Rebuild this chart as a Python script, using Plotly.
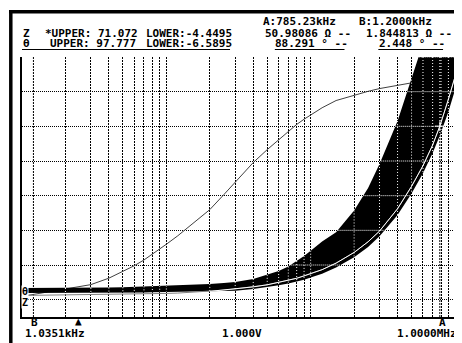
import numpy as np
import plotly.graph_objects as go

# sweep points (Hz)
freq = [1000, 1200, 1500, 2000, 2500, 3000, 4000, 5000, 6000, 7000, 8000, 9000,
        10000, 12000, 15000, 20000, 25000, 30000, 40000, 50000, 60000, 70000,
        80000, 90000, 100000, 120000, 150000, 200000, 250000, 300000, 400000,
        500000, 600000, 700000, 785230, 800000, 900000, 1000000]

# phase trace (deg)
theta_deg = [1.7, 2.45, 3.3, 4.5, 5.4, 6.4, 9.0, 11.8, 14.0, 16.3, 18.6, 20.7,
             22.6, 26.0, 30.6, 36.5, 42.5, 47.6, 55.4, 60.6, 64.6, 68.0,
             70.7, 72.8, 74.6, 77.4, 80.3, 82.5, 84.0, 85.1, 86.5,
             87.4, 87.9, 88.15, 88.291, 88.35, 88.7, 89.2]

# impedance trace (ohm)
z_ohm = [1.80, 1.845, 1.86, 1.89, 1.92, 1.95, 2.00, 2.07, 2.13, 2.20, 2.26, 2.33,
         2.40, 2.50, 2.70, 3.00, 3.35, 3.70, 4.30, 4.90, 5.60, 6.20,
         6.80, 7.50, 8.10, 9.30, 11.2, 14.3, 17.4, 20.5, 27.0,
         33.5, 39.5, 45.5, 50.98, 52.0, 58.8, 65.3]

# black noise band around |Z| (ohm)
z_band_lo = [2.50, 2.50, 2.50, 2.50, 2.50, 2.50, 2.55, 2.60, 2.65, 2.70, 2.75, 2.78,
             2.80, 2.85, 2.90, 2.95, 3.05, 3.20, 3.70, 4.20, 4.80, 5.30,
             5.80, 6.40, 7.00, 8.10, 9.90, 12.9, 15.9, 19.0, 25.2,
             31.4, 37.3, 43.2, 48.3, 49.2, 55.2, 61.5]
z_band_hi = [3.97, 3.97, 3.97, 3.97, 3.98, 4.00, 4.10, 4.20, 4.30, 4.45, 4.55, 4.62,
             4.70, 4.80, 4.95, 5.15, 5.40, 5.70, 6.60, 7.80, 8.90, 10.2,
             11.8, 13.3, 14.8, 17.5, 20.2, 26.5, 33.0, 40.0, 52.5,
             64.5, 75.0, 85.0, 90.0, 90.0, 95.0, 100.0]

theta_upper, theta_lower = 97.777, -6.5895
z_upper, z_lower = 71.072, -4.4495
marker_a = 785230
marker_b = 1200

grid_f = [m * 10.0 ** e for e in (3, 4, 5) for m in range(1, 10)] + [1e6]
n_div = 7.5
theta_grid = [theta_upper - k * (theta_upper - theta_lower) / n_div for k in range(8)]
z_grid = [z_upper - k * (z_upper - z_lower) / n_div for k in range(8)]

# screen uses XOR drawing: parts of lines lying inside the black band turn white
lo = np.array(z_band_lo)
hi = np.array(z_band_hi)
logf = np.log10(freq)
th_as_z = z_lower + (np.array(theta_deg) - theta_lower) / (theta_upper - theta_lower) * (z_upper - z_lower)
z_white = [v if a <= v <= b else None for v, a, b in zip(z_ohm, z_band_lo, z_band_hi)]
th_white = [t if a <= v <= b else None for t, v, a, b in zip(theta_deg, th_as_z, z_band_lo, z_band_hi)]

# white grid dots inside the band
vx, vy = [], []
for f in grid_f + [marker_a]:
    a = np.interp(np.log10(f), logf, lo)
    b = min(np.interp(np.log10(f), logf, hi), z_upper)
    vx += [f, f, None]
    vy += [b, a, None]
hx, hy = [], []
for L in z_grid:
    f0 = 10 ** np.interp(L, hi, logf)
    f1 = 10 ** np.interp(L, lo, logf) if L <= lo[-1] else 1e6
    if f1 > f0:
        hx += [f0, f1, None]
        hy += [L, L, None]

fig = go.Figure()
fig.add_trace(go.Scatter(x=[marker_b, marker_b, None, marker_a, marker_a],
                         y=[theta_upper, theta_lower, None, theta_upper, theta_lower],
                         mode='lines', line=dict(color='black', width=1, dash='2px,1px')))
fig.add_trace(go.Scatter(x=freq, y=z_band_lo, yaxis='y2', mode='lines', line=dict(width=0)))
fig.add_trace(go.Scatter(x=freq, y=z_band_hi, yaxis='y2', mode='lines', line=dict(width=0),
                         fill='tonexty', fillcolor='black'))
fig.add_trace(go.Scatter(x=freq, y=z_ohm, yaxis='y2', mode='lines', line=dict(color='#808080', width=1)))
fig.add_trace(go.Scatter(x=freq, y=theta_deg, mode='lines', line=dict(color='#404040', width=1)))
fig.add_trace(go.Scatter(x=vx, y=vy, yaxis='y2', mode='lines', line=dict(color='white', width=1, dash='1px,2px')))
fig.add_trace(go.Scatter(x=hx, y=hy, yaxis='y2', mode='lines', line=dict(color='white', width=1, dash='1px,1px')))
fig.add_trace(go.Scatter(x=freq, y=z_white, yaxis='y2', mode='lines', line=dict(color='white', width=1)))
fig.add_trace(go.Scatter(x=freq, y=th_white, mode='lines', line=dict(color='white', width=1)))
fig.add_trace(go.Scatter(x=[marker_a], y=[z_ohm[freq.index(marker_a)]], yaxis='y2', mode='markers',
                         marker=dict(symbol='cross-thin', size=7, line=dict(color='white', width=1))))


# positions below are in screen pixels of the 462x343 picture; plot box spans x 22..457, y 57..317
def px(x):
    return (x - 22) / 435


def py(y):
    return (317 - y) / 260


def ann(text, x, y, anchor='left', size=11, bg=None):
    return dict(text='<b>' + text + '</b>', x=px(x), y=py(y),
                xref='paper', yref='paper', xanchor=anchor, yanchor='middle',
                showarrow=False, font=dict(size=size), borderpad=0, bgcolor=bg)


annotations = [
    ann('A:785.23kHz', 263, 21), ann('B:1.2000kHz', 360, 21),
    ann('Z', 22, 33), ann('*UPPER: 71.072', 44, 33), ann('LOWER:-4.4495', 146, 33),
    ann('50.98086 Ω --', 265, 33), ann('1.844813 Ω --', 367, 33),
    ann('θ', 22, 44), ann('UPPER: 97.777', 49, 44), ann('LOWER:-6.5895', 146, 44),
    ann('88.291 ° --', 275, 44), ann('2.448 ° --', 380, 44),
    ann('θ', 25, 291, 'center', 10, 'white'), ann('Z', 25, 302, 'center', 10, 'white'),
    ann('B', 35, 322, 'center'), ann('1.0351kHz', 24, 333),
    ann('▲', 79, 321, 'center', 11), ann('1.000V', 222, 333),
    ann('A', 444, 322, 'center'), ann('1.0000MHz', 398, 333),
]

shapes = [
    dict(type='rect', xref='paper', yref='paper', x0=px(9), x1=px(470), y0=py(13.5), y1=py(10),
         fillcolor='black', line=dict(color='black', width=0), layer='above'),
    dict(type='rect', xref='paper', yref='paper', x0=px(9), x1=px(12.5), y0=py(350), y1=py(10),
         fillcolor='black', line=dict(color='black', width=0), layer='above'),
]
for x0, x1 in [(22, 231), (276, 346), (380, 445)]:
    shapes.append(dict(type='line', xref='paper', yref='paper', x0=px(x0), x1=px(x1),
                       y0=py(49.5), y1=py(49.5), line=dict(color='black', width=1)))

# the page body adds an 8px margin, so the figure is 8px smaller and shifted accordingly
fig.update_layout(
    width=454, height=335,
    margin=dict(l=14, r=5, t=49, b=26),
    paper_bgcolor='white', plot_bgcolor='white',
    showlegend=False,
    font=dict(family='DejaVu Sans Mono', size=11, color='black'),
    xaxis=dict(type='log', range=[3, 6], tickvals=grid_f, showticklabels=False, ticks='',
               showgrid=True, gridcolor='black', gridwidth=1, griddash='2px,1px',
               showline=True, linecolor='black', linewidth=2, zeroline=False),
    yaxis=dict(range=[theta_lower, theta_upper], tickvals=theta_grid, showticklabels=False, ticks='',
               showgrid=True, gridcolor='black', gridwidth=1, griddash='1px,1px',
               showline=True, linecolor='black', linewidth=2, mirror=True, zeroline=False),
    yaxis2=dict(range=[z_lower, z_upper], overlaying='y', visible=False),
    annotations=annotations,
    shapes=shapes,
)

fig.write_html("out.html")
